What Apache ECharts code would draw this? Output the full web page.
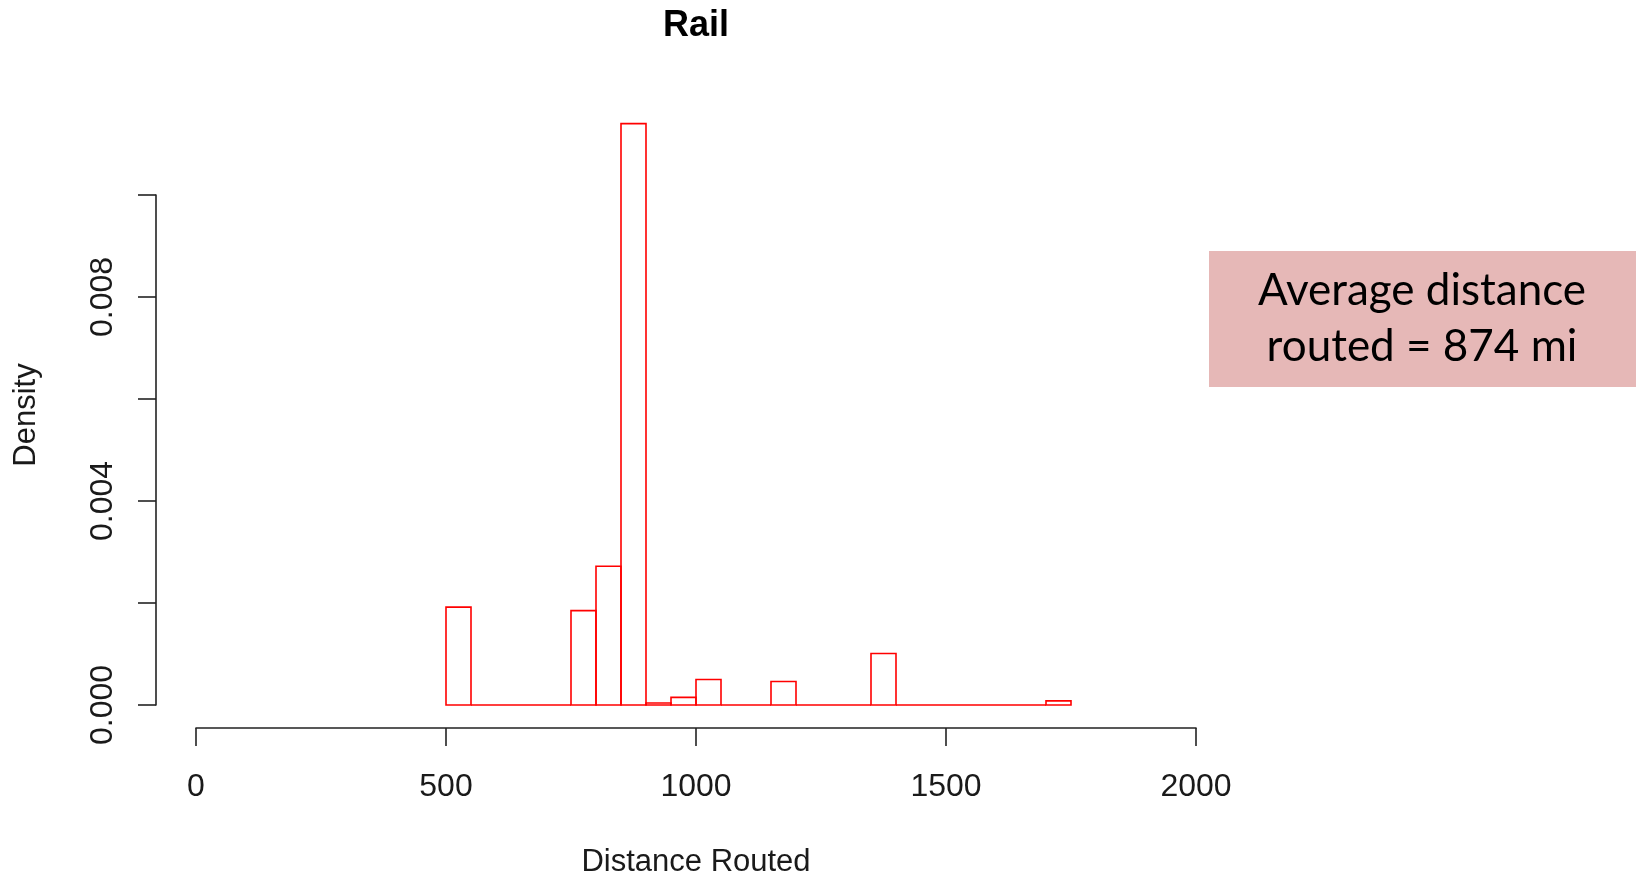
<!DOCTYPE html>
<html>
<head>
<meta charset="utf-8">
<script src="https://cdn.jsdelivr.net/npm/echarts@6/dist/echarts.min.js"></script>
<style>
  html, body { margin: 0; padding: 0; background: #ffffff; }
  #chart { width: 1636px; height: 883px; }
</style>
</head>
<body>
<div id="chart"></div>
<script>
// Histogram bins (left edge, right edge) and density heights
const binStart = [500, 550, 600, 650, 700, 750, 800, 850, 900, 950, 1000, 1050, 1100, 1150, 1200, 1250, 1300, 1350, 1400, 1450, 1500, 1550, 1600, 1650, 1700];
const binEnd   = [550, 600, 650, 700, 750, 800, 850, 900, 950, 1000, 1050, 1100, 1150, 1200, 1250, 1300, 1350, 1400, 1450, 1500, 1550, 1600, 1650, 1700, 1750];
const density  = [0.00192, 0, 0, 0, 0, 0.00185, 0.00272, 0.01140, 0.00004, 0.00015, 0.00050, 0, 0, 0.00046, 0, 0, 0, 0.00101, 0, 0, 0, 0, 0, 0, 0.00008];

const xTicks = [0, 500, 1000, 1500, 2000];
const yTicks = [0, 0.002, 0.004, 0.006, 0.008, 0.010];
const yLabelled = [0, 0.004, 0.008];

const titleText = 'Rail';
const xName = 'Distance Routed';
const yName = 'Density';
const noteLines = ['Average distance', 'routed = 874 mi'];

const histData = binStart.map((s, i) => [s, binEnd[i], density[i]]);

const chart = echarts.init(document.getElementById('chart'), null, { renderer: 'canvas' });
const axisColor = '#222222';
const textColor = '#1a1a1a';
const font = 'Liberation Sans, Arial, sans-serif';
const noteFont = 'Lato, Open Sans, sans-serif';

chart.setOption({
  animation: false,
  backgroundColor: '#ffffff',
  grid: { left: 196, right: 440, top: 195, bottom: 175.5, containLabel: false },
  xAxis: {
    type: 'value',
    min: xTicks[0],
    max: xTicks[xTicks.length - 1],
    interval: 500,
    offset: 23,
    name: xName,
    nameLocation: 'middle',
    nameGap: 119,
    nameTextStyle: { fontFamily: font, fontSize: 31, color: textColor },
    axisLine: { show: true, onZero: false, lineStyle: { color: axisColor, width: 1.6 } },
    axisTick: { show: true, inside: false, length: 18, lineStyle: { color: axisColor, width: 1.6 } },
    axisLabel: {
      show: true, margin: 43, fontFamily: font, fontSize: 32, color: textColor,
      formatter: function (v) { return String(v); }
    },
    splitLine: { show: false }
  },
  yAxis: {
    type: 'value',
    min: yTicks[0],
    max: yTicks[yTicks.length - 1],
    interval: 0.002,
    offset: 40,
    axisLine: { show: true, onZero: false, lineStyle: { color: axisColor, width: 1.6 } },
    axisTick: { show: true, inside: false, length: 18, lineStyle: { color: axisColor, width: 1.6 } },
    axisLabel: {
      show: true,
      rotate: 90,
      margin: 37,
      fontFamily: font,
      fontSize: 32,
      color: textColor,
      formatter: function (v) {
        const ok = yLabelled.some(t => Math.abs(t - v) < 1e-9);
        return ok ? v.toFixed(3) : '';
      }
    },
    splitLine: { show: false }
  },
  series: [{
    type: 'custom',
    clip: false,
    data: histData,
    encode: { x: [0, 1], y: 2 },
    renderItem: function (params, api) {
      const p0 = api.coord([api.value(0), 0]);
      const p1 = api.coord([api.value(1), api.value(2)]);
      return {
        type: 'rect',
        shape: { x: p0[0], y: p1[1], width: p1[0] - p0[0], height: p0[1] - p1[1] },
        style: { fill: 'none', stroke: '#ff0000', lineWidth: 1.6 }
      };
    }
  }],
  graphic: [
    {
      type: 'text', x: 696, y: 26,
      style: { text: titleText, fontFamily: font, fontWeight: 'bold', fontSize: 36, fill: '#000', textAlign: 'center', textVerticalAlign: 'middle' }
    },
    {
      type: 'text', x: 26, y: 415, rotation: Math.PI / 2,
      style: { text: yName, fontFamily: font, fontSize: 31, fill: textColor, textAlign: 'center', textVerticalAlign: 'middle' }
    },
    {
      type: 'group',
      left: 1209,
      top: 251,
      children: [
        { type: 'rect', shape: { x: 0, y: 0, width: 427, height: 136 }, style: { fill: '#E6B8B7' } },
        { type: 'text', x: 213, y: 40, style: { text: noteLines[0], fontFamily: noteFont, fontSize: 44, fill: '#000', textAlign: 'center', textVerticalAlign: 'middle' } },
        { type: 'text', x: 213, y: 96, style: { text: noteLines[1], fontFamily: noteFont, fontSize: 44, fill: '#000', textAlign: 'center', textVerticalAlign: 'middle' } }
      ]
    }
  ]
});
</script>
</body>
</html>
